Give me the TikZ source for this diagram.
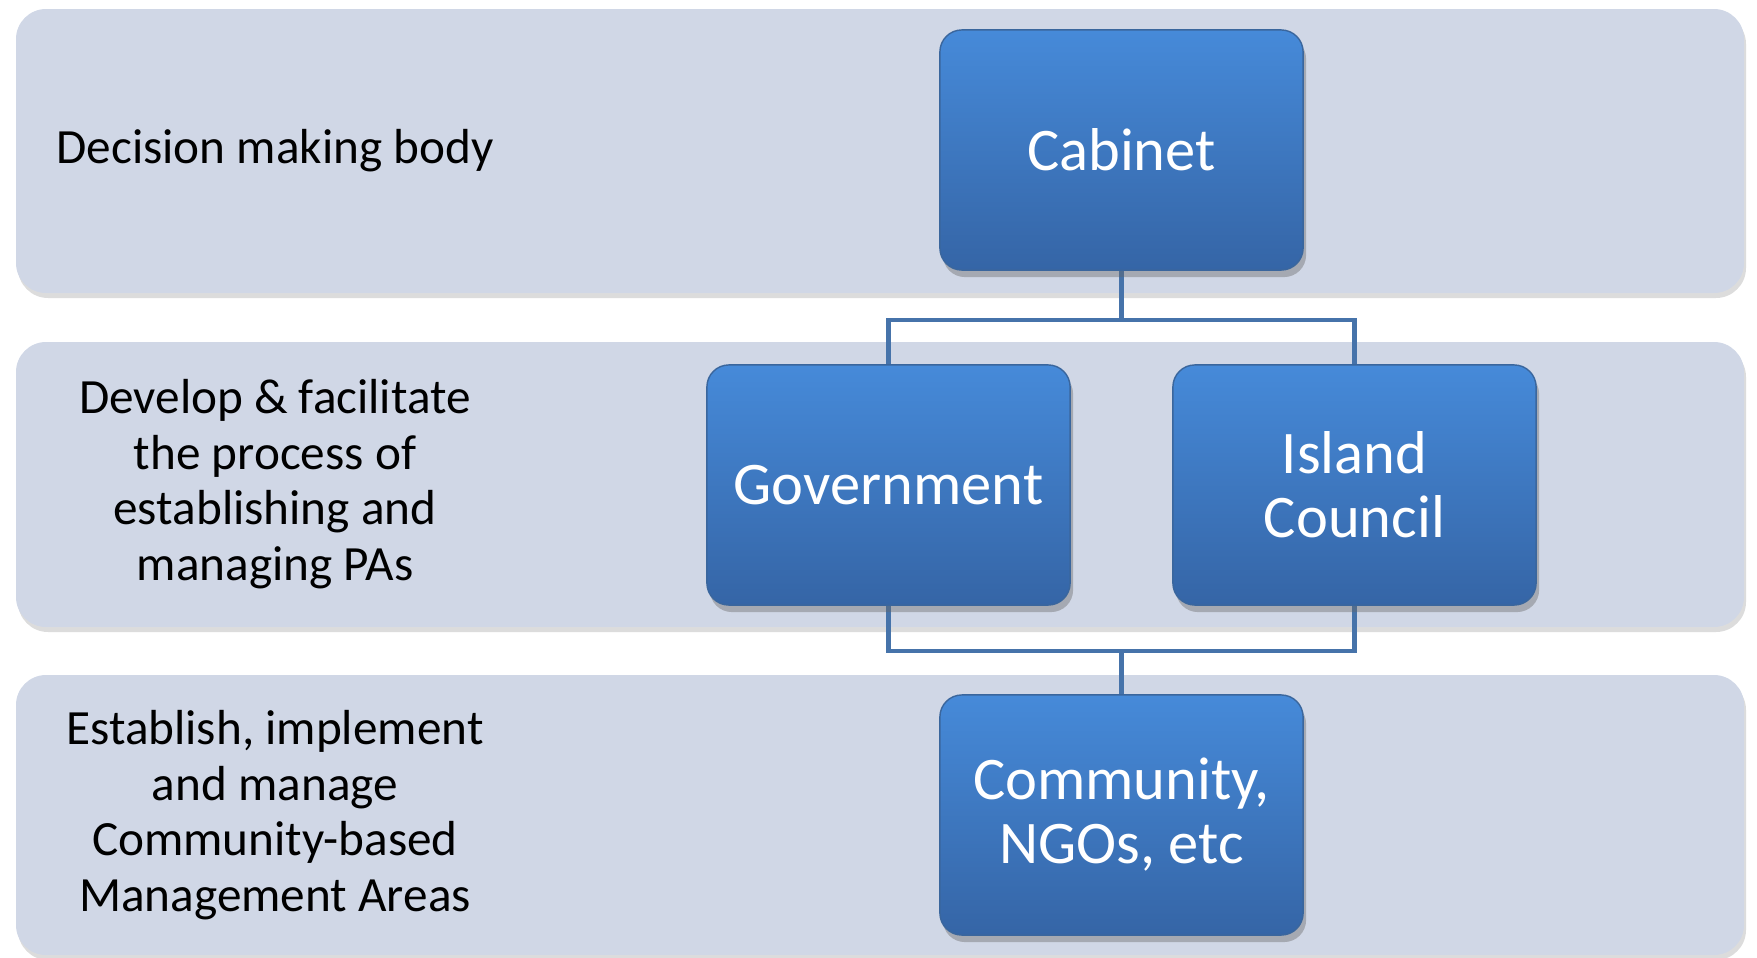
\documentclass[tikz,border=0pt]{standalone}
\usepackage{fontspec}
\setmainfont{Carlito}
\usetikzlibrary{positioning}
\usetikzlibrary{shadows}

\definecolor{bandfill}{HTML}{D0D7E6}
\definecolor{boxtop}{HTML}{468AD9}
\definecolor{boxbottom}{HTML}{3565A6}
\definecolor{boxedge}{HTML}{3A669D}
\definecolor{linkcol}{HTML}{4673AA}

\tikzset{
band/.style={fill=bandfill,draw=none,rounded corners=0.3cm,
  drop shadow={shadow xshift=0.02cm,shadow yshift=-0.05cm,opacity=0.3,fill=black!45}},
unit/.style={rectangle,rounded corners=0.22cm,draw=boxedge,thin,
  top color=boxtop,bottom color=boxbottom,text=white,align=center,
  minimum width=3.63cm,minimum height=2.4cm,
  font=\fontsize{17.2}{18.2}\selectfont,
  drop shadow={shadow xshift=0.03cm,shadow yshift=-0.07cm,opacity=0.4,fill=black!60}},
role/.style={align=center,text=black,font=\fontsize{14}{15.8}\selectfont},
link/.style={draw=linkcol,line width=0.045cm}
}

\begin{document}
\begin{tikzpicture}[x=0.01cm,y=-0.01cm]
\useasboundingbox (0,0) rectangle (1757,957);

% bands
\fill[band] (16,9) rectangle (1744,293);
\fill[band] (16,342) rectangle (1744,627);
\fill[band] (16,675) rectangle (1744,955);

\node[role] (decide) at (275,151) {Decision making body};
\node[role] (develop) at (275,484) {Develop \& facilitate\\the process of\\establishing and\\managing PAs};
\node[role] (establish) at (275,815) {Establish, implement\\and manage\\Community-based\\Management Areas};

% connectors
\coordinate (upper) at (1121.5,320);
\coordinate (lower) at (1121.5,651);
\draw[link] (1121.5,270) -- (upper);
\draw[link] (888.5,365) |- (upper) -| (1354.5,365);
\draw[link] (888.5,605) |- (lower) -| (1354.5,605);
\draw[link] (lower) -- (1121.5,695);

% boxes
\node[unit] (cabinet) at (1121.5,150) {Cabinet};
\node[unit] (govt) at (888.5,485) {Government};
\node[unit] (council) at (1354.5,485) {Island\\Council};
\node[unit] (community) at (1121.5,815) {Community,\\NGOs, etc};

\end{tikzpicture}
\end{document}
